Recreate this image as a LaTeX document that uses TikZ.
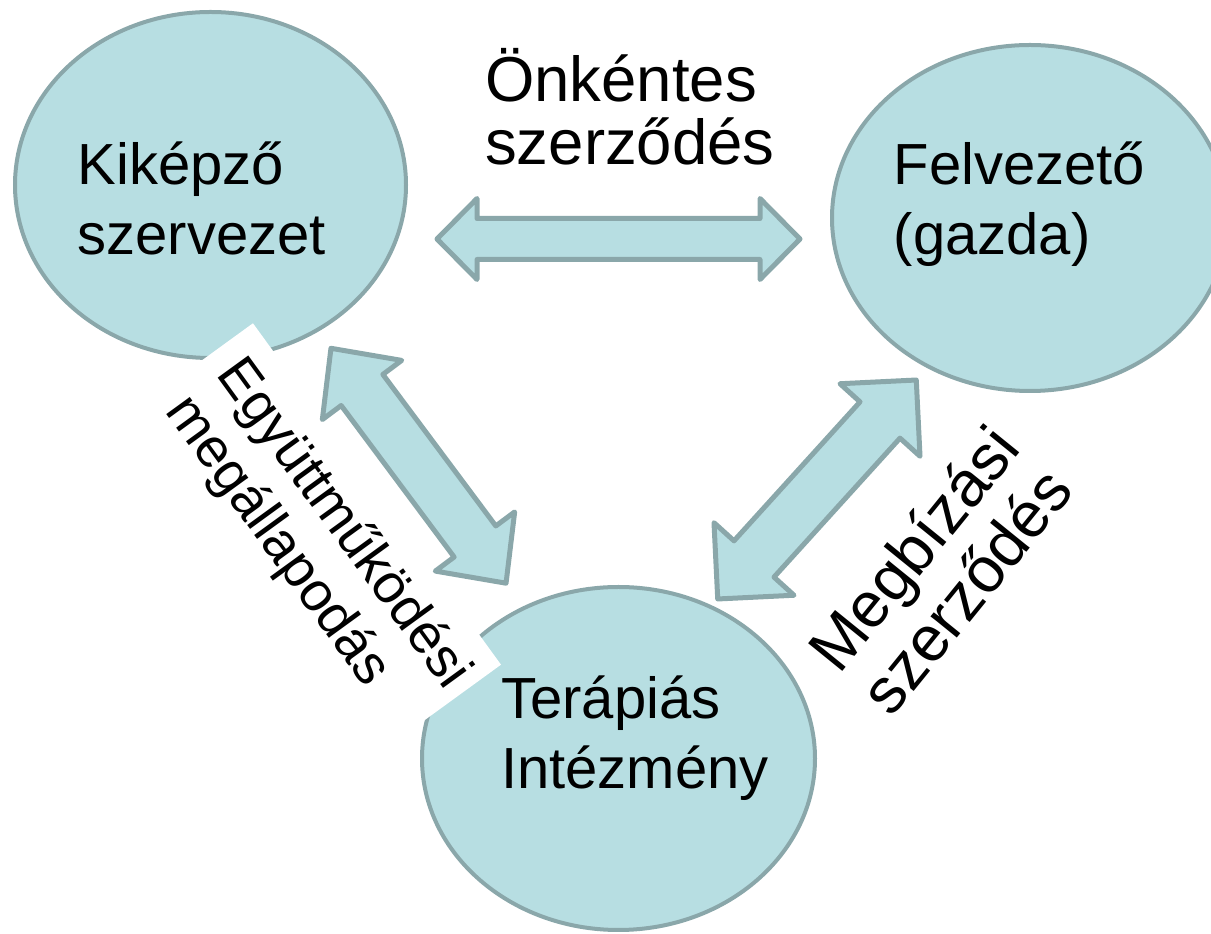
\documentclass[tikz,border=0pt]{standalone}
\usepackage{fontspec}
\setmainfont{Liberation Sans}
\usetikzlibrary{shapes.geometric}
\definecolor{bubblefill}{RGB}{183,222,226}
\definecolor{bubbleline}{RGB}{138,167,170}
\newcommand\twolines[2]{\vtop{\lineskiplimit=-1000pt\hbox{#1}\hbox{#2}}}
\newcommand\blockarrow[7]{%
  \begin{scope}[shift={(#1,#2)},rotate=#3]
    \draw[blockarr] ({-#4/2},0) -- ({-#4/2+#5},#6) -- ({-#4/2+#5},#7)
      -- ({#4/2-#5},#7) -- ({#4/2-#5},#6) -- ({#4/2},0)
      -- ({#4/2-#5},-#6) -- ({#4/2-#5},-#7) -- ({-#4/2+#5},-#7)
      -- ({-#4/2+#5},-#6) -- cycle;
  \end{scope}}
\tikzset{
  bubble/.style={ellipse,draw=bubbleline,fill=bubblefill,line width=4pt,inner sep=0pt},
  blockarr/.style={draw=bubbleline,fill=bubblefill,line width=5pt,line join=round},
  bubbletext/.style={inner sep=0pt,anchor=base west,font=\fontsize{58}{70}\selectfont},
}
\begin{document}
\begin{tikzpicture}[x=1pt,y=1pt]
\useasboundingbox (0,0) rectangle (1211,934);
\clip (0,0) rectangle (1211,934);
% bubbles
\node[bubble,minimum width=391pt,minimum height=346pt] (kik) at (210.5,749) {};
\node[bubble,minimum width=396pt,minimum height=346pt] (fel) at (1030,716) {};
\node[bubble,minimum width=393pt,minimum height=343pt] (ter) at (618.5,175.5) {};
% white background of the left label
\node[fill=white,inner sep=0pt,rotate=-54,anchor=north west,minimum width=422pt,minimum height=150pt] (egybg) at (253,611) {};
% block arrows
\blockarrow{618.5}{695}{0}{363}{40}{40.5}{20.5}
\blockarrow{418.5}{468.25}{-53.3}{293}{52}{49.5}{26}
\blockarrow{817}{444.5}{47.8}{295.6}{54}{54}{27}
% bubble texts
\node[bubbletext] (kiktext) at (77.5,749) {\twolines{Kiképző}{szervezet}};
\node[bubbletext] (feltext) at (893.5,749) {\twolines{Felvezető}{(gazda)}};
\node[bubbletext] (tertext) at (501,215.7) {\twolines{Terápiás}{Intézmény}};
% relation labels
\node[inner sep=0pt,anchor=base west,font=\fontsize{63.5}{63}\selectfont] (onk) at (485,832.5) {\twolines{Önkéntes}{szerződés}};
\node[inner sep=0pt,anchor=base west,rotate=-54,font=\fontsize{55}{63}\selectfont] (egy) at (215.5,559.5) {\twolines{Együttműködési}{megállapodás}};
\node[inner sep=0pt,anchor=base west,rotate=51,font=\fontsize{64}{68}\selectfont] (meg) at (839,258) {\twolines{Megbízási}{szerződés}};
\end{tikzpicture}
\end{document}
